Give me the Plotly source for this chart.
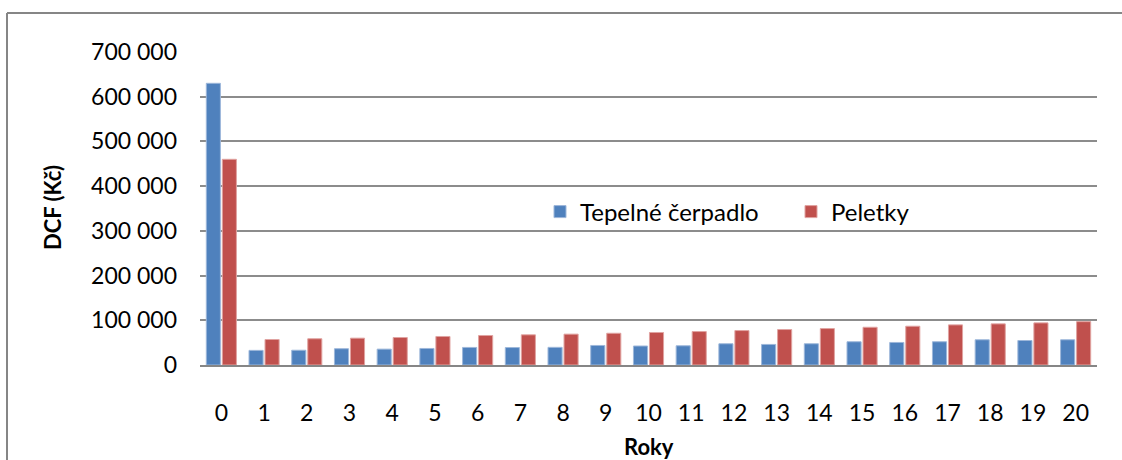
import plotly.graph_objects as go

# Discounted cash flow per year for both heating options
years = [str(y) for y in range(21)]
tepelne_cerpadlo = [630000, 32700, 33000, 36400, 35500, 37000, 39300, 39000, 39500, 43700,
                     42500, 43000, 47500, 46000, 47500, 52000, 50400, 52000, 56400, 54800, 56400]
peletky = [460000, 57000, 58700, 60000, 61500, 63800, 66000, 67500, 69000, 71000,
           72700, 74800, 77000, 79300, 81500, 84400, 86700, 89700, 92000, 94200, 97000]

y_tick_vals = [0, 100000, 200000, 300000, 400000, 500000, 600000, 700000]
y_tick_text = ["0", "100 000", "200 000", "300 000", "400 000", "500 000", "600 000", "700 000"]

FONT = "Lato"
W, H = 1122, 460
L, R, T, B = 200, 25, 52, 95
PW, PH = W - L - R, H - T - B

def px_x(px):
    return (px - L) / PW

def px_y(py):
    return (H - B - py) / PH

fig = go.Figure()
fig.add_trace(go.Bar(
    x=years, y=tepelne_cerpadlo, name="Tepelné čerpadlo",
    marker=dict(color="#4F81BD", line=dict(color="#9DB7DA", width=1)),
    legend="legend", showlegend=True,
))
fig.add_trace(go.Bar(
    x=years, y=peletky, name="Peletky",
    marker=dict(color="#C0504D", line=dict(color="#E0A3A1", width=1)),
    legend="legend2", showlegend=True,
))

legend_common = dict(
    orientation="h", xanchor="left", yanchor="middle",
    font=dict(family=FONT, size=24, color="#000000"),
    bgcolor="rgba(0,0,0,0)", borderwidth=0,
    itemwidth=30, visible=True,
)

fig.update_layout(
    width=W, height=H,
    margin=dict(l=L, r=R, t=T, b=B),
    paper_bgcolor="white", plot_bgcolor="white",
    showlegend=True,
    barmode="group", bargap=0.25, bargroupgap=0.12,
    font=dict(family=FONT, size=23, color="#000000"),
    legend=dict(x=px_x(540), y=px_y(212), **legend_common),
    legend2=dict(x=px_x(791), y=px_y(212), **legend_common),
    xaxis=dict(
        type="category", showgrid=False, showline=True, linecolor="#868686", linewidth=2,
        ticks="", ticklabelstandoff=26,
        tickfont=dict(family=FONT, size=23, color="#000000"),
    ),
    yaxis=dict(
        range=[0, 700000], tickvals=y_tick_vals, ticktext=y_tick_text,
        showgrid=True, gridcolor="#8C8C8C", gridwidth=1.5,
        zeroline=False, showline=False, ticks="", ticklabelstandoff=22,
        tickfont=dict(family=FONT, size=23, color="#000000"),
    ),
    annotations=[
        dict(text="<b>Roky</b>", xref="paper", yref="paper", x=px_x(649), y=px_y(446),
             xanchor="center", yanchor="middle", showarrow=False,
             font=dict(family=FONT, size=22, color="#000000")),
        dict(text="<b>DCF (Kč)</b>", xref="paper", yref="paper", x=px_x(52), y=px_y(208),
             xanchor="center", yanchor="middle", showarrow=False, textangle=-90,
             font=dict(family=FONT, size=22, color="#000000")),
    ],
    shapes=[
        dict(type="line", xref="paper", yref="paper",
             x0=px_x(7), x1=px_x(7), y0=px_y(13), y1=px_y(470),
             line=dict(color="#868686", width=2)),
        dict(type="line", xref="paper", yref="paper",
             x0=px_x(7), x1=px_x(1130), y0=px_y(13), y1=px_y(13),
             line=dict(color="#868686", width=2)),
    ],
)

fig.write_html("out.html")
